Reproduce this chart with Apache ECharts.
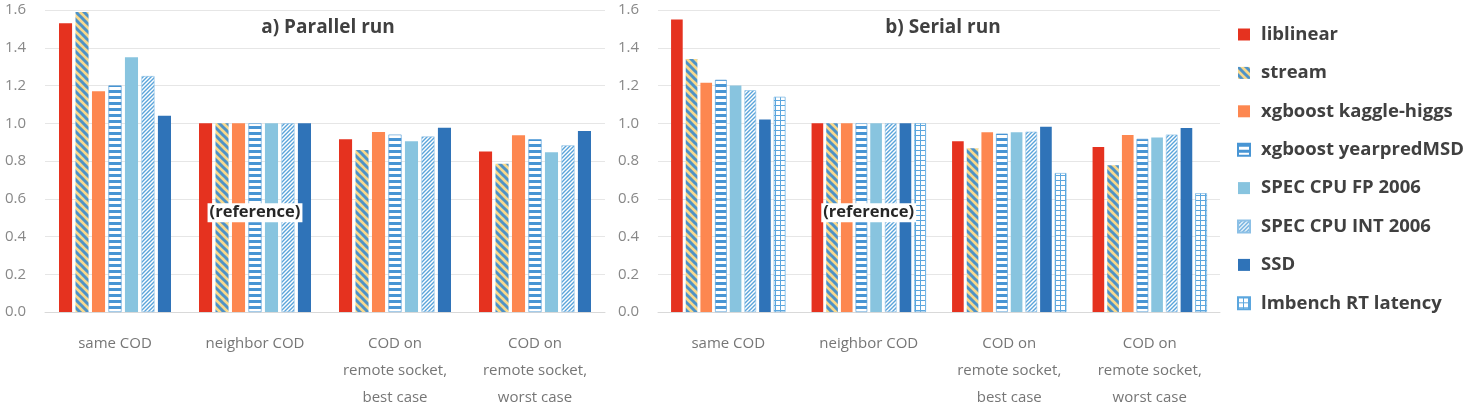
<!DOCTYPE html>
<html>
<head>
<meta charset="utf-8">
<script src="https://cdn.jsdelivr.net/npm/echarts@6/dist/echarts.min.js"></script>
<style>
  html, body { margin: 0; padding: 0; background: #fff; }
  #chart { width: 1473px; height: 413px; }
</style>
</head>
<body>
<div id="chart"></div>
<script>
const categories = ['same COD', 'neighbor COD', 'COD on\nremote socket,\nbest case', 'COD on\nremote socket,\nworst case'];
const yTicks = [0, 0.2, 0.4, 0.6, 0.8, 1.0, 1.2, 1.4, 1.6];

// a) Parallel run
const parLiblinear = [1.53, 1.0, 0.915, 0.85];
const parStream    = [1.59, 1.0, 0.858, 0.786];
const parKaggle    = [1.17, 1.0, 0.954, 0.936];
const parYearpred  = [1.20, 1.0, 0.94, 0.915];
const parSpecFp    = [1.35, 1.0, 0.904, 0.846];
const parSpecInt   = [1.25, 1.0, 0.93, 0.883];
const parSsd       = [1.04, 1.0, 0.976, 0.959];

// b) Serial run
const serLiblinear = [1.55, 1.0, 0.904, 0.874];
const serStream    = [1.34, 1.0, 0.867, 0.778];
const serKaggle    = [1.215, 1.0, 0.952, 0.938];
const serYearpred  = [1.23, 1.0, 0.945, 0.917];
const serSpecFp    = [1.20, 1.0, 0.952, 0.925];
const serSpecInt   = [1.175, 1.0, 0.955, 0.94];
const serSsd       = [1.02, 1.0, 0.982, 0.975];
const serLmbench   = [1.14, 1.0, 0.736, 0.629];

const FONT = '"Open Sans", "Noto Sans", sans-serif';

// small canvas tiles for the hatched fills
function tile(w, h, draw) {
  const c = document.createElement('canvas');
  c.width = w; c.height = h;
  draw(c.getContext('2d'), w, h);
  return { image: c, repeat: 'repeat' };
}
const stripeDiag = tile(8, 8, (g, w, h) => {
  g.fillStyle = '#f8d98c'; g.fillRect(0, 0, w, h);
  g.strokeStyle = '#4d92c8'; g.lineWidth = 3;
  g.beginPath();
  g.moveTo(-2, -2); g.lineTo(w + 2, h + 2);
  g.moveTo(-2, h - 2); g.lineTo(2, h + 2);
  g.moveTo(w - 2, -2); g.lineTo(w + 2, 2);
  g.stroke();
});
const stripeHoriz = tile(6, 6, (g, w, h) => {
  g.fillStyle = '#ffffff'; g.fillRect(0, 0, w, h);
  g.fillStyle = '#4895d4'; g.fillRect(0, 0, w, 3);
});
const stripeThin = tile(4, 4, (g, w, h) => {
  g.fillStyle = '#ffffff'; g.fillRect(0, 0, w, h);
  g.strokeStyle = '#5aa4da'; g.lineWidth = 1.4;
  g.beginPath();
  g.moveTo(-1, h + 1); g.lineTo(w + 1, -1);
  g.moveTo(-1, 1); g.lineTo(1, -1);
  g.moveTo(w - 1, h + 1); g.lineTo(w + 1, h - 1);
  g.stroke();
});
const gridFill = tile(5, 5, (g, w, h) => {
  g.fillStyle = '#ffffff'; g.fillRect(0, 0, w, h);
  g.fillStyle = '#5ba6de';
  g.fillRect(0, 0, w, 1);
  g.fillRect(0, 0, 1, h);
});

const refLabel = (dx) => ({
  value: 1.0,
  label: {
    show: true, position: 'inside', offset: [dx, -5],
    formatter: '(reference)',
    fontFamily: FONT, fontSize: 16.5, fontWeight: 'bold', color: '#262626',
    backgroundColor: '#ffffff', padding: [1, 2]
  }
});

function withRef(arr, dx) {
  return arr.map((v, i) => (i === 1 ? refLabel(dx) : v));
}

function bars(name, data, color, idx, gap, catGap, border) {
  return {
    name, type: 'bar', data,
    xAxisIndex: idx, yAxisIndex: idx,
    barGap: gap, barCategoryGap: catGap,
    itemStyle: { color, borderColor: border || 'transparent', borderWidth: border ? 0.6 : 0 },
    emphasis: { disabled: true }
  };
}

const chart = echarts.init(document.getElementById('chart'));

const gridCommon = { top: 10, bottom: 101 };
const xAxisCommon = {
  type: 'category', data: categories,
  axisTick: { show: false },
  axisLine: { lineStyle: { color: '#d9d9d9' } },
  axisLabel: { color: '#767676', fontFamily: FONT, fontSize: 15, lineHeight: 27, margin: 18, interval: 0 }
};
const yAxisCommon = {
  type: 'value', min: 0, max: 1.6, interval: 0.2,
  axisLine: { show: false }, axisTick: { show: false },
  splitLine: { lineStyle: { color: '#e6e6e6' } },
  axisLabel: { color: '#888888', fontFamily: FONT, fontSize: 15, margin: 19,
    formatter: (v) => yTicks.includes(Math.round(v * 10) / 10) ? v.toFixed(1) : '' }
};

const gapL = '26%', catL = '20%';
const gapR = '26%', catR = '18.6%';
const blue = '#4895d4';
const titleStyle = { fontFamily: FONT, fontSize: 19, fontWeight: 'bold', color: '#404040' };

chart.setOption({
  animation: false,
  textStyle: { fontFamily: FONT },
  title: [
    { text: 'a) Parallel run', left: 328, top: 18, padding: 0, textAlign: 'center', textStyle: titleStyle },
    { text: 'b) Serial run', left: 943, top: 18, padding: 0, textAlign: 'center', textStyle: titleStyle }
  ],
  legend: {
    orient: 'vertical', left: 1232, top: 20,
    itemWidth: 12, itemHeight: 12, itemGap: 19.4,
    icon: 'rect',
    textStyle: { fontFamily: FONT, fontSize: 18.5, fontWeight: 'bold', color: '#404040', padding: [0, 0, 0, 6] },
    data: ['liblinear', 'stream', 'xgboost kaggle-higgs', 'xgboost yearpredMSD', 'SPEC CPU FP 2006', 'SPEC CPU INT 2006', 'SSD', 'lmbench RT latency']
  },
  grid: [
    Object.assign({ left: 45, width: 560 }, gridCommon),
    Object.assign({ left: 658, width: 562 }, gridCommon)
  ],
  xAxis: [Object.assign({ gridIndex: 0 }, xAxisCommon), Object.assign({ gridIndex: 1 }, xAxisCommon)],
  yAxis: [Object.assign({ gridIndex: 0 }, yAxisCommon), Object.assign({ gridIndex: 1 }, yAxisCommon)],
  series: [
    bars('liblinear', parLiblinear, '#e5321f', 0, gapL, catL),
    bars('stream', parStream, stripeDiag, 0, gapL, catL),
    bars('xgboost kaggle-higgs', parKaggle, '#fd8750', 0, gapL, catL),
    bars('xgboost yearpredMSD', withRef(parYearpred, 0), stripeHoriz, 0, gapL, catL, blue),
    bars('SPEC CPU FP 2006', parSpecFp, '#88c4df', 0, gapL, catL),
    bars('SPEC CPU INT 2006', parSpecInt, stripeThin, 0, gapL, catL, '#8cc0e6'),
    bars('SSD', parSsd, '#2f73b8', 0, gapL, catL),

    bars('liblinear', serLiblinear, '#e5321f', 1, gapR, catR),
    bars('stream', serStream, stripeDiag, 1, gapR, catR),
    bars('xgboost kaggle-higgs', serKaggle, '#fd8750', 1, gapR, catR),
    bars('xgboost yearpredMSD', withRef(serYearpred, 7.3), stripeHoriz, 1, gapR, catR, blue),
    bars('SPEC CPU FP 2006', serSpecFp, '#88c4df', 1, gapR, catR),
    bars('SPEC CPU INT 2006', serSpecInt, stripeThin, 1, gapR, catR, '#8cc0e6'),
    bars('SSD', serSsd, '#2f73b8', 1, gapR, catR),
    bars('lmbench RT latency', serLmbench, gridFill, 1, gapR, catR, '#5ba6de')
  ]
});

window.addEventListener('resize', () => chart.resize());
</script>
</body>
</html>
